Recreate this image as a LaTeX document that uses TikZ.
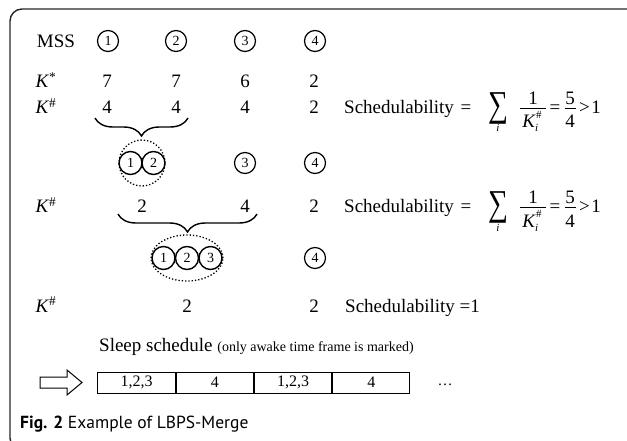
\documentclass[tikz,border=0pt]{standalone}
\usepackage{fontspec}
\setmainfont{Liberation Serif}
\newfontfamily\capfont{PT Sans}
\usetikzlibrary{decorations.pathreplacing,shapes.geometric}
\tikzset{
  txt/.style={inner sep=0pt, font=\fontsize{19}{22}\selectfont},
  idx/.style={inner sep=0pt, font=\fontsize{11}{13}\selectfont},
  sig/.style={inner sep=0pt, font=\fontsize{28}{30}\selectfont},
  small/.style={inner sep=0pt, font=\fontsize{15}{18}\selectfont},
  mss/.style={circle, draw, line width=1.2pt, minimum size=21pt, inner sep=0pt, font=\fontsize{14}{16}\selectfont},
  mrg/.style={circle, draw, line width=1.4pt, minimum size=23pt, inner sep=0pt, font=\fontsize{14}{16}\selectfont},
  grp/.style={draw, dotted, line width=1.3pt, inner sep=0pt},
  brc/.style={decorate, decoration={brace, amplitude=18pt}, line width=1.4pt},
  bar/.style={line width=0.9pt},
  cell/.style={draw, line width=1pt, minimum width=77.25pt, minimum height=21pt, inner sep=0pt, font=\fontsize{16}{18}\selectfont},
}
\newcommand{\Kh}{\textit{K}\textsuperscript{\#}}
\newcommand{\Ks}{\textit{K}\textsuperscript{*}}
% Schedulability = sum_i 1/K_i^# = 5/4 > 1, set piece by piece from its baseline
\newcommand{\schedformula}[3]{%
\begin{scope}[shift={(#2,#3)}, name prefix=#1-]
\node[txt, anchor=base west] (word) at (0,0) {Schedulability};
\node[txt, anchor=base] (eqa) at (122,0) {=};
\node[sig] (sum) at (154,-6) {\scalebox{1}[1.3]{∑}};
\node[idx, anchor=base] (si) at (154,18) {\textit{i}};
\node[txt, anchor=base] (num) at (189,-9.5) {1};
\coordinate (fla) at (176,-5.5);
\coordinate (flb) at (202,-5.5);
\draw[bar] (fla) -- (flb);
\node[txt, anchor=base] (den) at (185,14) {\textit{K}};
\node[idx, anchor=base west] (dsup) at (192,5) {\#};
\node[idx, anchor=base west] (dsub) at (191,18) {\textit{i}};
\node[txt, anchor=base] (eqb) at (211,0) {=};
\node[txt, anchor=base] (five) at (226,-9.5) {5};
\coordinate (fba) at (220.5,-5.5);
\coordinate (fbb) at (231.5,-5.5);
\draw[bar] (fba) -- (fbb);
\node[txt, anchor=base] (four) at (226,14) {4};
\node[txt, anchor=base] (gt) at (240.5,0) {>};
\node[txt, anchor=base] (one) at (252,0) {1};
\end{scope}}
\begin{document}
\begin{tikzpicture}[x=1pt,y=-1pt]
\useasboundingbox (0,0) rectangle (627,441);
\begin{scope}
\clip (0,0) rectangle (627,441);
% panel frame: top and left edges only
\draw[line width=1.4pt, black!85, rounded corners=12pt] (640,9) -- (10,9) -- (10,450) -- (40,450);
\end{scope}

% header row
\node[txt] (mss) at (56,41) {MSS};
\node[mss] (c1) at (108,41) {1};
\node[mss] (c2) at (176,41) {2};
\node[mss] (c3) at (245,41) {3};
\node[mss] (c4) at (315,41) {4};

% K* row
\node[txt, anchor=base] (ks) at (46,88) {\Ks};
\node[txt, anchor=base] (ks1) at (107,88) {7};
\node[txt, anchor=base] (ks2) at (176,88) {7};
\node[txt, anchor=base] (ks3) at (245,88) {6};
\node[txt, anchor=base] (ks4) at (314,88) {2};

% first K# row
\node[txt, anchor=base] (ka) at (46,114) {\Kh};
\node[txt, anchor=base] (ka1) at (107,114) {4};
\node[txt, anchor=base] (ka2) at (176,114) {4};
\node[txt, anchor=base] (ka3) at (245,114) {4};
\node[txt, anchor=base] (ka4) at (314,114) {2};
\schedformula{sa}{344}{114}

% merge 1 and 2
\coordinate (b1l) at (95,118);
\coordinate (b1r) at (188,118);
\draw[brc] (b1r) -- (b1l);
\node[grp, circle, minimum size=46pt] (g12) at (142,163) {};
\node[mrg] (m1) at (130.5,163) {1};
\node[mrg] (m2) at (153.5,163) {2};
\node[mss] (d3) at (245,163) {3};
\node[mss] (d4) at (315,163) {4};

% second K# row
\node[txt, anchor=base] (kb) at (46,213) {\Kh};
\node[txt, anchor=base] (kb1) at (142,213) {2};
\node[txt, anchor=base] (kb3) at (245,213) {4};
\node[txt, anchor=base] (kb4) at (314,213) {2};
\schedformula{sb}{344}{213}

% merge 12 and 3
\coordinate (b2l) at (118,214);
\coordinate (b2r) at (257,214);
\draw[brc] (b2r) -- (b2l);
\node[grp, ellipse, minimum width=72pt, minimum height=46pt] (g123) at (187,258) {};
\node[mrg] (n1) at (163.5,258) {1};
\node[mrg] (n2) at (187,258) {2};
\node[mrg] (n3) at (210.5,258) {3};
\node[mss] (e4) at (315,258) {4};

% third K# row
\node[txt, anchor=base] (kc) at (46,312) {\Kh};
\node[txt, anchor=base] (kc1) at (187,312) {2};
\node[txt, anchor=base] (kc4) at (314,312) {2};
\node[txt, anchor=base west] (sc) at (345,312) {Schedulability =1};

% resulting sleep schedule
\node[anchor=base west, inner sep=0pt] (sl) at (99,351) {\fontsize{19}{22}\selectfont Sleep schedule \fontsize{14}{17}\selectfont(only awake time frame is marked)};
\draw[line width=1pt] (40,377) -- (67,377) -- (67,370) -- (82,382.5) -- (67,395) -- (67,388) -- (40,388) -- cycle;
\node[cell] (f1) at (136.6,382.5) {1,2,3};
\node[cell, anchor=west] (f2) at (f1.east) {4};
\node[cell, anchor=west] (f3) at (f2.east) {1,2,3};
\node[cell, anchor=west] (f4) at (f3.east) {4};
\node[small] (dots) at (445,385) {\dots};

% caption
\node[anchor=base west, inner sep=0pt, font=\capfont\fontsize{17.5}{20}\selectfont] (cap) at (20,428) {\textbf{Fig. 2} Example of LBPS-Merge};
\end{tikzpicture}
\end{document}
